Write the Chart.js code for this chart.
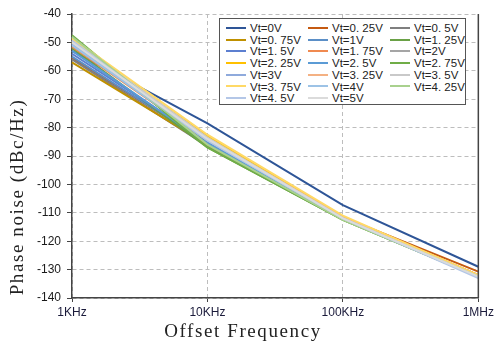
<!DOCTYPE html>
<html><head><meta charset="utf-8">
<script src="https://cdn.jsdelivr.net/npm/chart.js@4/dist/chart.umd.min.js"></script>
<style>
html,body{margin:0;padding:0;background:#fff;}
#wrap{position:relative;width:497px;height:346px;}
#legend{position:absolute;left:219px;top:18px;width:247px;height:87px;border:1.5px solid #555;background:#fff;box-sizing:border-box;font-family:"Liberation Sans",Arial,sans-serif;font-size:11.5px;color:#222;}
.item{position:absolute;height:12px;line-height:12px;white-space:nowrap;}
.item i{display:inline-block;width:20px;height:2px;vertical-align:middle;margin-right:4px;position:relative;top:-1px;}
</style></head>
<body><div id="wrap"><canvas id="c" width="497" height="346"></canvas><div id="legend"></div></div>
<script>
const categories = ["1KHz","10KHz","100KHz","1MHz"];
const seriesNames = ["Vt=0V","Vt=0. 25V","Vt=0. 5V","Vt=0. 75V","Vt=1V","Vt=1. 25V","Vt=1. 5V","Vt=1. 75V","Vt=2V","Vt=2. 25V","Vt=2. 5V","Vt=2. 75V","Vt=3V","Vt=3. 25V","Vt=3. 5V","Vt=3. 75V","Vt=4V","Vt=4. 25V","Vt=4. 5V","Vt=5V"];
const v0V   = [-53, -78.5, -107.3, -129];
const v025V = [-55.5, -85.5, -111.5, -130.7];
const v05V  = [-56, -86.5, -112, -132];
const v075V = [-57, -86, -112, -132];
const v1V   = [-55, -85.5, -112, -132.5];
const v125V = [-52, -87, -112.5, -132.5];
const v15V  = [-54, -85, -112, -132.5];
const v175V = [-51.5, -84.5, -111.5, -132];
const v2V   = [-51, -84.5, -112, -132.5];
const v225V = [-50, -83, -111.5, -132];
const v25V  = [-53, -85.5, -112, -132.5];
const v275V = [-47.5, -87, -112.5, -132.5];
const v3V   = [-50.5, -84, -112, -132.5];
const v325V = [-49.5, -84, -111.5, -132];
const v35V  = [-49, -83.5, -112, -132.5];
const v375V = [-48.5, -82.5, -111, -132];
const v4V   = [-51, -84.5, -112, -132.5];
const v425V = [-48, -86, -112.5, -132.5];
const v45V  = [-49.5, -84.5, -112, -133];
const v5V   = [-50, -84, -112, -132.5];
const seriesValues = [v0V,v025V,v05V,v075V,v1V,v125V,v15V,v175V,v2V,v225V,v25V,v275V,v3V,v325V,v35V,v375V,v4V,v425V,v45V,v5V];
const colors = ["#2E5597","#C55A11","#7F7F7F","#BF9000","#5B8FC7","#6AA146","#5C7FD0","#F08A50","#A5A5A5","#FFC000","#5B9BD5","#70AD47","#8FAADC","#F4B183","#C9C9C9","#FFD966","#9DC3E6","#A9D18E","#B4C7E7","#DBDBDB"];
const yTicks = [-40,-50,-60,-70,-80,-90,-100,-110,-120,-130,-140];

const datasets = seriesNames.map((n,i)=>({
  label:n, data:seriesValues[i], borderColor:colors[i], backgroundColor:colors[i],
  borderWidth:2, pointRadius:0, tension:0, fill:false, order:seriesNames.length-i
}));

const deco = {
  id:'deco',
  afterDraw(chart){
    const ctx = chart.ctx, a = chart.chartArea;
    ctx.save();
    ctx.strokeStyle = '#444'; ctx.lineWidth = 1.5;
    ctx.beginPath(); ctx.moveTo(a.right, a.top); ctx.lineTo(a.right, a.bottom); ctx.stroke();
    ctx.fillStyle = '#222';
    ctx.font = '19px "Liberation Serif","DejaVu Serif",serif';
    ctx.letterSpacing = '1.6px';
    ctx.textAlign = 'center'; ctx.textBaseline = 'middle';
    ctx.fillText('Offset Frequency', 243, 332);
    ctx.translate(18, 197); ctx.rotate(-Math.PI/2);
    ctx.fillText('Phase noise (dBc/Hz)', 0, 0);
    ctx.restore();
  }
};

new Chart(document.getElementById('c'), {
  type:'line',
  data:{labels:categories, datasets},
  options:{
    responsive:false, animation:false,
    layout:{padding:{top:14,right:15,left:0,bottom:0}},
    plugins:{legend:{display:false}, tooltip:{enabled:false}},
    scales:{
      x:{
        type:'category', offset:false,
        grid:{color:'#BDBDBD', tickBorderDash:[], drawTicks:true, tickLength:4, tickColor:'#444'},
        border:{display:true, color:'#444', width:1.5, dash:[4,3]},
        ticks:{color:'#1a1a3a', font:{family:'"Liberation Sans",Arial,sans-serif', size:12}, padding:3, maxRotation:0, autoSkip:false},
        afterFit(s){ s.height = 48; }
      },
      y:{
        min:-140, max:-40,
        afterBuildTicks(s){ s.ticks = yTicks.map(v=>({value:v})); },
        grid:{color:'#BDBDBD', tickBorderDash:[], drawTicks:true, tickLength:5, tickColor:'#444'},
        border:{display:true, color:'#444', width:1.5, dash:[4,3]},
        ticks:{color:'#1a1a1a', font:{family:'"Liberation Sans",Arial,sans-serif', size:12}, padding:6},
        afterFit(s){ s.width = 72; }
      }
    }
  },
  plugins:[deco]
});

const lg = document.getElementById('legend');
seriesNames.forEach((n,i)=>{
  const col = i%3, row = Math.floor(i/3);
  const d = document.createElement('div');
  d.className='item';
  d.style.left = (6 + col*82) + 'px';
  d.style.top = (3 + row*11.7) + 'px';
  d.innerHTML = '<i style="background:'+colors[i]+'"></i>'+n;
  lg.appendChild(d);
});
</script></body></html>
